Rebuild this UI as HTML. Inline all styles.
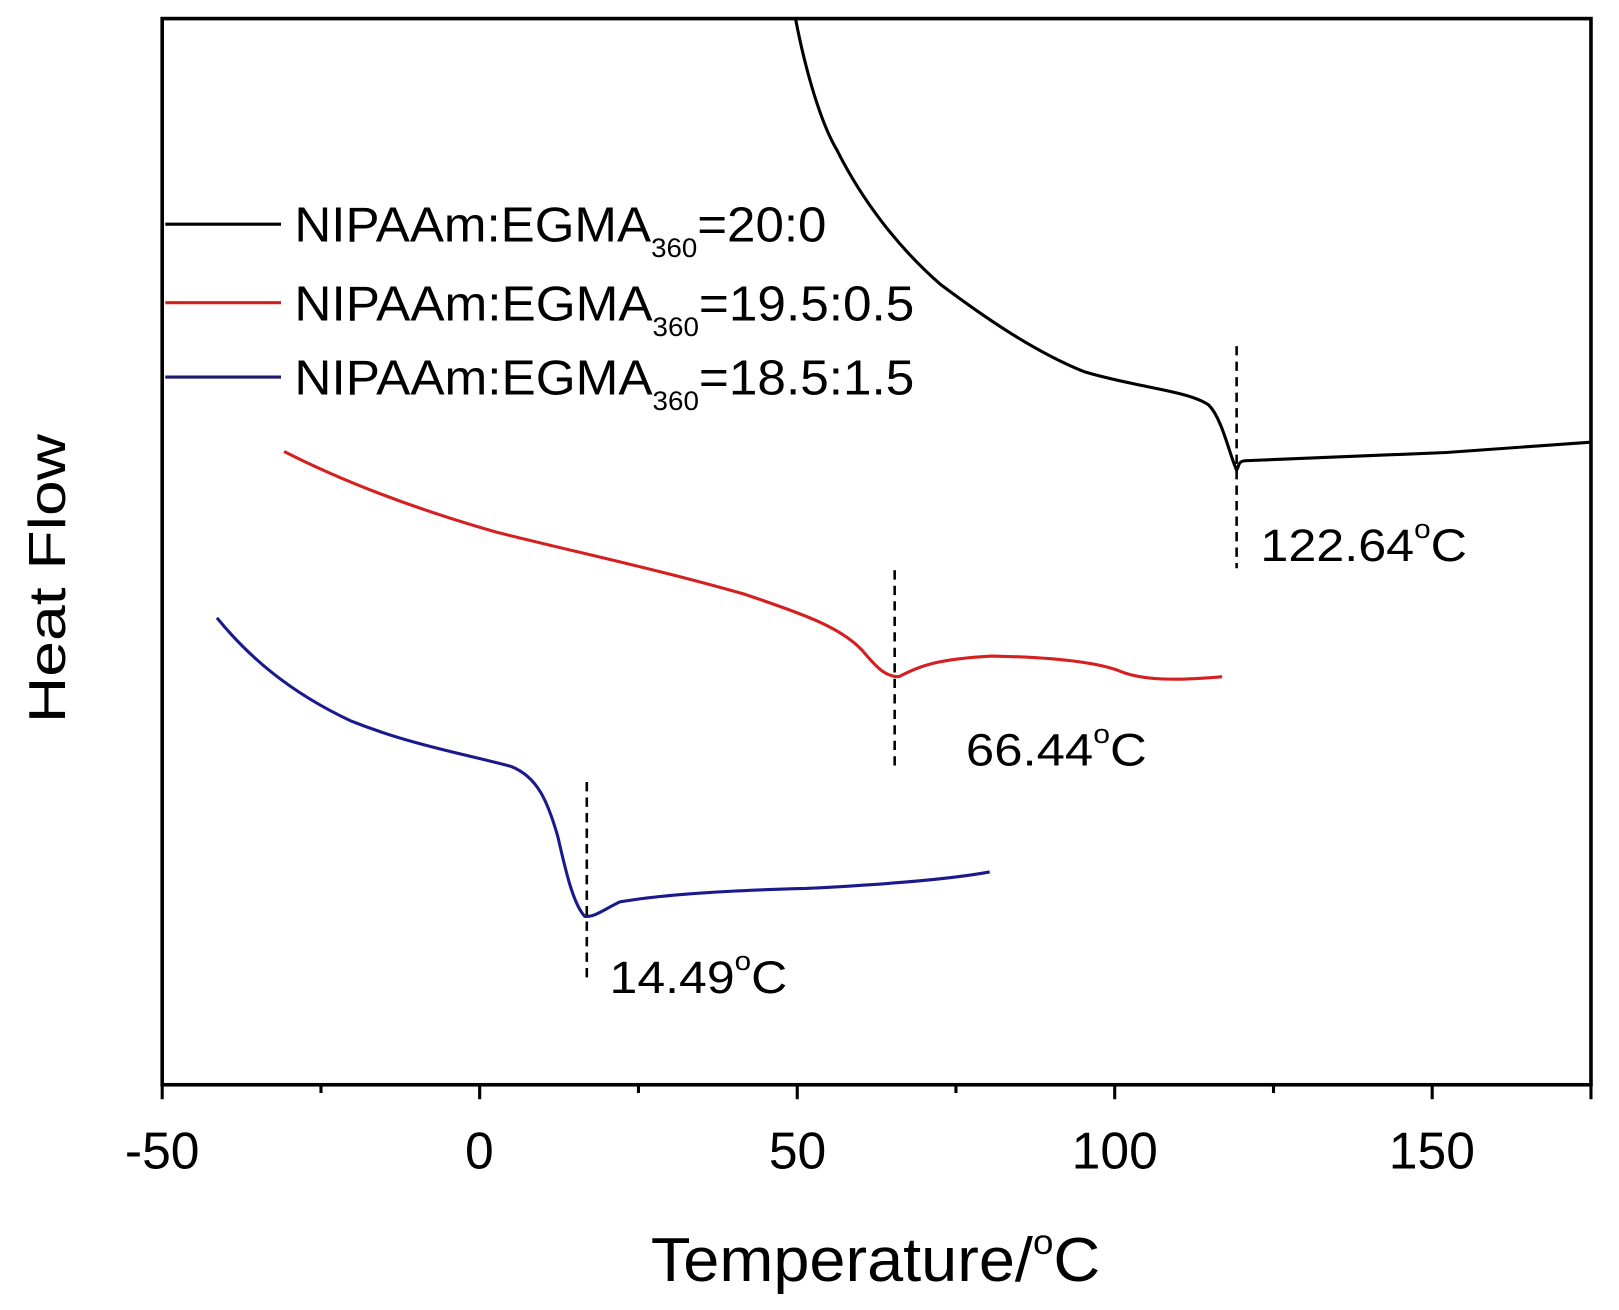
<!DOCTYPE html>
<html><head><meta charset="utf-8"><style>
html,body{margin:0;padding:0;background:#fff;}
svg{display:block;}
text{font-family:"Liberation Sans",Arial,sans-serif;fill:#000;}
</style></head><body>
<svg width="1619" height="1310" viewBox="0 0 1619 1310" xmlns="http://www.w3.org/2000/svg">
<g transform="scale(1.0331)">
<rect x="157" y="18" width="1383" height="1032" fill="none" stroke="#000" stroke-width="3.5"/>
<g stroke="#000" stroke-width="3">
<line x1="157" y1="1050" x2="157" y2="1064"/>
<line x1="310.7" y1="1050" x2="310.7" y2="1058"/>
<line x1="464.3" y1="1050" x2="464.3" y2="1064"/>
<line x1="618" y1="1050" x2="618" y2="1058"/>
<line x1="771.7" y1="1050" x2="771.7" y2="1064"/>
<line x1="925.3" y1="1050" x2="925.3" y2="1058"/>
<line x1="1079" y1="1050" x2="1079" y2="1064"/>
<line x1="1232.7" y1="1050" x2="1232.7" y2="1058"/>
<line x1="1386.3" y1="1050" x2="1386.3" y2="1064"/>
<line x1="1540" y1="1050" x2="1540" y2="1064"/>
</g>
<g font-size="50" text-anchor="middle">
<text x="157" y="1131">-50</text>
<text x="464" y="1131">0</text>
<text x="772" y="1131">50</text>
<text x="1079" y="1131">100</text>
<text x="1386" y="1131">150</text>
</g>
<text x="630" y="1240" font-size="60" textLength="435" lengthAdjust="spacingAndGlyphs">Temperature/<tspan font-size="34" dy="-26">o</tspan><tspan dy="26">C</tspan></text>
<text transform="translate(63,700) rotate(-90)" font-size="50" textLength="280" lengthAdjust="spacingAndGlyphs">Heat Flow</text>

<g stroke-width="3" fill="none">
<line x1="160" y1="217" x2="272" y2="217" stroke="#000"/>
<line x1="160" y1="293" x2="272" y2="293" stroke="#d42020"/>
<line x1="160" y1="365" x2="272" y2="365" stroke="#1a1a6e"/>
</g>
<g font-size="48">
<text x="285" y="234" textLength="515" lengthAdjust="spacingAndGlyphs">NIPAAm:EGMA<tspan font-size="26" dy="15">360</tspan><tspan dy="-15">=20:0</tspan></text>
<text x="285" y="310" textLength="600" lengthAdjust="spacingAndGlyphs">NIPAAm:EGMA<tspan font-size="26" dy="15">360</tspan><tspan dy="-15">=19.5:0.5</tspan></text>
<text x="285" y="382" textLength="600" lengthAdjust="spacingAndGlyphs">NIPAAm:EGMA<tspan font-size="26" dy="15">360</tspan><tspan dy="-15">=18.5:1.5</tspan></text>
</g>

<path d="M770,18 C780,70 795,120 810,145 C835,195 870,240 910,275 C950,305 1000,340 1050,360 C1100,375 1150,378 1170,392 C1183,405 1190,440 1197,455 C1200,450 1198,447 1205,446 L1400,438 L1540,428" fill="none" stroke="#000" stroke-width="3"/>
<path d="M275,437 C330,465 400,492 480,515 C560,535 640,552 720,575 C780,595 815,608 835,630 C850,648 858,655 870,655 C890,645 905,638 960,635 C1010,636 1060,640 1085,650 C1110,660 1150,658 1183,655" fill="none" stroke="#d42020" stroke-width="3"/>
<path d="M210,598 C240,635 280,670 340,698 C400,722 460,732 495,742 C520,752 530,775 540,810 C548,845 555,875 566,887 C576,888 585,880 600,873 C640,866 700,862 780,860 C860,856 920,851 958,844" fill="none" stroke="#1a1a8c" stroke-width="3"/>

<g stroke="#000" stroke-width="2.5" stroke-dasharray="9,6">
<line x1="1197" y1="335" x2="1197" y2="550"/>
<line x1="866" y1="552" x2="866" y2="745"/>
<line x1="568" y1="757" x2="568" y2="950"/>
</g>
<g font-size="44">
<text x="1220" y="543" textLength="200" lengthAdjust="spacingAndGlyphs">122.64<tspan font-size="26" dy="-22">o</tspan><tspan dy="22">C</tspan></text>
<text x="935" y="741" textLength="175" lengthAdjust="spacingAndGlyphs">66.44<tspan font-size="26" dy="-22">o</tspan><tspan dy="22">C</tspan></text>
<text x="590" y="961" textLength="172" lengthAdjust="spacingAndGlyphs">14.49<tspan font-size="26" dy="-22">o</tspan><tspan dy="22">C</tspan></text>
</g>
</g>
</svg>
</body></html>
